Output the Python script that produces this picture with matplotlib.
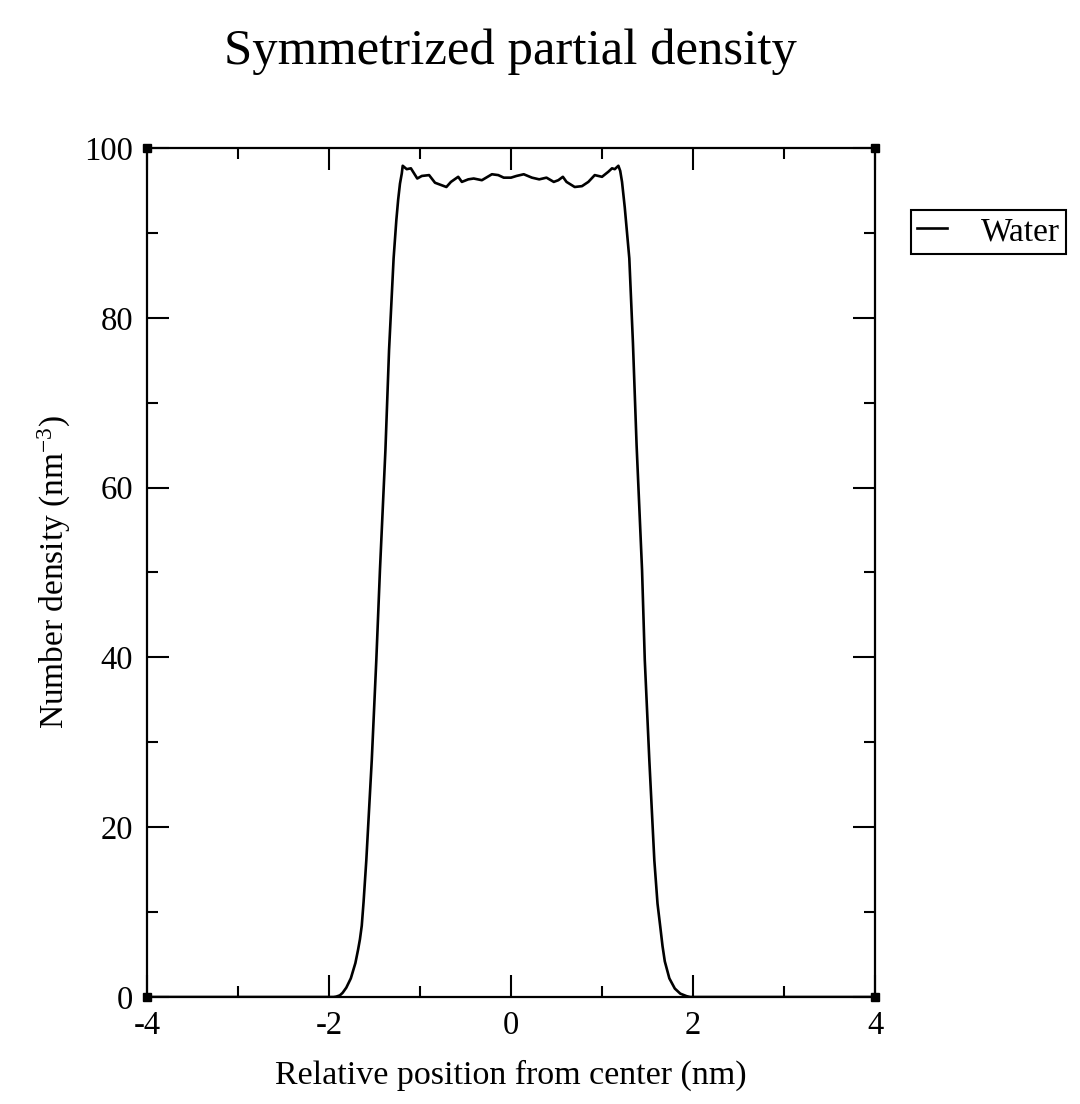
import matplotlib
matplotlib.use("Agg")
import matplotlib.pyplot as plt

# Symmetrized partial density of water
position = [-4.0, -1.95, -1.92, -1.88, -1.85, -1.81, -1.76, -1.71, -1.68, -1.66,
            -1.64, -1.62, -1.59, -1.53, -1.48, -1.44, -1.38, -1.34, -1.29, -1.26,
            -1.24, -1.22, -1.20, -1.19, -1.146, -1.10, -1.03, -0.98, -0.90, -0.835,
            -0.71, -0.66, -0.58, -0.54, -0.47, -0.41, -0.32, -0.21, -0.14, -0.08,
            0.0, 0.06, 0.14, 0.23, 0.31, 0.39, 0.47, 0.52, 0.57, 0.61,
            0.70, 0.78, 0.85, 0.92, 1.0, 1.07, 1.11, 1.14, 1.18, 1.20,
            1.22, 1.25, 1.30, 1.34, 1.38, 1.44, 1.47, 1.52, 1.575, 1.61,
            1.64, 1.665, 1.69, 1.74, 1.80, 1.86, 1.93, 1.97, 4.0]
density = [0.0, 0.0, 0.05, 0.2, 0.5, 1.1, 2.2, 4.0, 5.6, 6.8,
           8.4, 11.2, 16.1, 27.9, 39.7, 50.3, 64.4, 76.2, 87.0, 91.5,
           93.9, 95.8, 97.0, 97.9, 97.5, 97.6, 96.4, 96.7, 96.8, 95.9,
           95.4, 96.0, 96.6, 96.0, 96.3, 96.4, 96.2, 96.9, 96.8, 96.5,
           96.5, 96.7, 96.9, 96.5, 96.3, 96.5, 96.0, 96.2, 96.6, 96.0,
           95.4, 95.5, 96.0, 96.8, 96.6, 97.2, 97.6, 97.5, 97.9, 97.3,
           96.0, 93.0, 87.0, 77.0, 65.0, 50.3, 39.7, 27.9, 16.1, 11.0,
           8.3, 6.0, 4.2, 2.2, 1.0, 0.4, 0.1, 0.0, 0.0]

x_ticks = [-4, -2, 0, 2, 4]
y_ticks = [0, 20, 40, 60, 80, 100]

plt.rcParams['font.family'] = ['Liberation Serif', 'DejaVu Serif']
plt.rcParams['mathtext.fontset'] = 'custom'
plt.rcParams['mathtext.rm'] = 'Liberation Serif'
plt.rcParams['mathtext.default'] = 'regular'
plt.rcParams['axes.unicode_minus'] = False

fig = plt.figure(figsize=(10.8, 11.04), dpi=100)
ax = fig.add_axes([0.1361, 0.0969, 0.8102 - 0.1361, 0.866 - 0.0969])

ax.plot(position, density, color='black', linewidth=1.9, label='Water')

ax.set_xlim(-4, 4)
ax.set_ylim(0, 100)
ax.set_xticks(x_ticks)
ax.set_yticks(y_ticks)
ax.set_xticks([-3, -1, 1, 3], minor=True)
ax.set_yticks([10, 30, 50, 70, 90], minor=True)
ax.tick_params(which='both', direction='in', top=True, right=True, width=1.5,
               labelsize=23.5, colors='black')
ax.tick_params(which='major', length=16, pad=10)
ax.tick_params(which='minor', length=8)
for s in ax.spines.values():
    s.set_linewidth(1.6)

# little squares grace draws at the frame corners
ax.plot([0, 0, 1, 1], [0, 1, 0, 1], 's', color='black', markersize=5.5,
        transform=ax.transAxes, clip_on=False)

ax.set_xlabel('Relative position from center (nm)', fontsize=24.5)
ax.set_ylabel(r'Number density (nm$^{-3}$)', fontsize=24)
ax.xaxis.set_label_coords(0.5, -0.074)
ax.yaxis.set_label_coords(-0.101, 0.5)

fig.text(0.473, 0.953, 'Symmetrized partial density', fontsize=36.5,
         ha='center', va='center')

leg = ax.legend(loc='upper left', bbox_to_anchor=(1.049, 0.927), fontsize=24,
                handlelength=0.9, handletextpad=1.0, borderaxespad=0,
                fancybox=False, framealpha=1, borderpad=0.2)
leg.get_frame().set_edgecolor('black')
leg.get_frame().set_linewidth(1.5)

fig.savefig('out.png', dpi=100)
